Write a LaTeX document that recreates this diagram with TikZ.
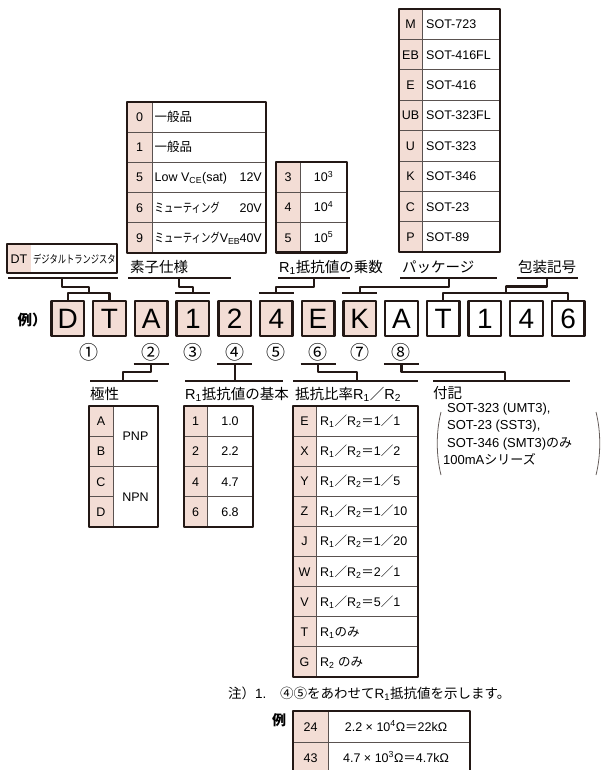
\documentclass[tikz,border=0pt]{standalone}
\usepackage{fontspec}
\setmainfont{Liberation Sans}
\newfontfamily\jp{Noto Sans CJK JP}
\newfontfamily\jpn[FakeStretch=0.75]{Noto Sans CJK JP}
\usetikzlibrary{positioning,calc}
\definecolor{pk}{RGB}{243,221,213}
\definecolor{ink}{RGB}{35,24,21}
\tikzset{
  frame/.style={draw=ink,line width=2.3pt},
  rule/.style={draw=ink,line width=2.2pt},
  sep/.style={draw=ink!75,line width=0.9pt},
  cell/.style={inner sep=0pt,text height=9pt,text depth=0pt,font=\fontsize{12.5}{14}\selectfont},
  lbl/.style={inner sep=0pt,anchor=base west,font=\fontsize{14.5}{16}\selectfont},
  chr/.style={draw=ink,line width=2.4pt,minimum width=32.6pt,minimum height=34.6pt,
    inner sep=0pt,text height=20pt,text depth=0pt,font=\fontsize{28}{28}\selectfont},
  num/.style={inner sep=0pt,font=\jp\fontsize{19}{19}\selectfont}
}
\newcommand{\Rr}[1]{R\textsubscript{#1}}
\newcommand{\rat}[2]{\Rr{1}{\jp ／}\Rr{2}{\jp ＝}#1{\jp ／}#2}
\begin{document}
\begin{tikzpicture}[x=1pt,y=-1pt,line join=round]
\useasboundingbox (0,0) rectangle (602,770);
% code row
\foreach \t [count=\i from 0] in {D,T,A,1,2,4,E,K,A,T,1,4,6}{
  \ifnum\i<8 \def\fc{pk}\else\def\fc{white}\fi
  \node[chr,fill=\fc] (c\i) at (67.8+41.7*\i,318.5) {\t};
}
\node[num,font=\jp\bfseries\fontsize{14.5}{15}\selectfont] (rei) at (32,320) {例）};
\node[num] (n1) at ($(c0)!.5!(c1)+(0,33.5)$) {①};
\foreach \s/\j in {②/2,③/3,④/4,⑤/5,⑥/6,⑦/7,⑧/8}{
  \node[num] (n\j) at (c\j |- 0,352) {\s};
}

% DT box
\fill[pk] (7,244) rectangle (31,273);
\draw[ink,line width=2pt] (7,244) rectangle (117,273);
\node[cell] (dt) at (19,258.5) {DT};
\node[cell,anchor=west,font=\jpn\fontsize{11}{12}\selectfont] (dtn) at (33,258.5) {デジタルトランジスタ};

% 素子仕様
\def\xa{127} \def\xb{152} \def\xc{266} \def\ya{102} \def\rh{30.2}
\fill[pk] (\xa,\ya) rectangle (\xb,\ya+5*\rh);
\foreach \k/\v/\w [count=\i from 0] in {0/{\jp 一般品}/{},1/{\jp 一般品}/{},
  5/{Low V\textsubscript{CE}(sat)}/12V,6/{\jpn ミューティング}/20V,
  9/{\jpn ミューティング}V\textsubscript{EB}/40V}{
  \node[cell] (s\i) at (\xa/2+\xb/2,\ya+\rh*\i+\rh/2) {\k};
  \node[cell,anchor=west] (sv\i) at (\xb+2.5,\ya+\rh*\i+\rh/2) {\v};
  \node[cell,anchor=east] (sw\i) at (\xc-4,\ya+\rh*\i+\rh/2) {\w};
  \ifnum\i>0 \draw[sep] (\xa,\ya+\rh*\i) -- (\xc,\ya+\rh*\i);\fi
}
\draw[sep] (\xb,\ya) -- (\xb,\ya+5*\rh);
\draw[frame] (\xa,\ya) rectangle (\xc,\ya+5*\rh);

% R1 乗数
\def\xa{276} \def\xb{300} \def\xc{347} \def\ya{162} \def\rh{30.2}
\fill[pk] (\xa,\ya) rectangle (\xb,\ya+3*\rh);
\foreach \k [count=\i from 0] in {3,4,5}{
  \node[cell] (m\i) at (\xa/2+\xb/2,\ya+\rh*\i+\rh/2) {\k};
  \node[cell] (mv\i) at (\xb/2+\xc/2,\ya+\rh*\i+\rh/2) {10\textsuperscript{\k}};
  \ifnum\i>0 \draw[sep] (\xa,\ya+\rh*\i) -- (\xc,\ya+\rh*\i);\fi
}
\draw[sep] (\xb,\ya) -- (\xb,\ya+3*\rh);
\draw[frame] (\xa,\ya) rectangle (\xc,\ya+3*\rh);

% package
\def\xa{399} \def\xb{422} \def\xc{500} \def\ya{9} \def\rh{30.4}
\fill[pk] (\xa,\ya) rectangle (\xb,\ya+8*\rh);
\foreach \k/\v [count=\i from 0] in {M/SOT-723,EB/SOT-416FL,E/SOT-416,UB/SOT-323FL,
  U/SOT-323,K/SOT-346,C/SOT-23,P/SOT-89}{
  \node[cell] (p\i) at (\xa/2+\xb/2,\ya+\rh*\i+\rh/2) {\k};
  \node[cell,anchor=west] (pv\i) at (\xb+4,\ya+\rh*\i+\rh/2) {\v};
  \ifnum\i>0 \draw[sep] (\xa,\ya+\rh*\i) -- (\xc,\ya+\rh*\i);\fi
}
\draw[sep] (\xb,\ya) -- (\xb,\ya+8*\rh);
\draw[frame] (\xa,\ya) rectangle (\xc,\ya+8*\rh);

% labels above
\node[lbl] (ls) at (130,272.5) {\jp 素子仕様};
\node[lbl] (lm) at (279,272.5) {\Rr{1}{\jp 抵抗値の乗数}};
\node[lbl] (lp) at (402,272.5) {\jp パッケージ};
\node[lbl] (lh) at (518,272.5) {\jp 包装記号};

% brackets above
\coordinate (udt1) at (8,278); \coordinate (udt2) at (118,278);
\coordinate (jdt) at (62,278);
\coordinate (kdt) at ($(c0.north)!.5!(c1.north)+(0,-7.2)$);
\draw[rule] (udt1) -- (udt2);
\draw[rule] (c0.north) -- ++(0,-7.2) -- ([yshift=7.2pt]c1.north) -- (c1.north);
\draw[rule] (jdt) -- ++(0,9) -| (kdt);

\coordinate (us1) at (128,278); \coordinate (us2) at (231,278);
\coordinate (js) at (179,278);
\draw[rule] (us1) -- (us2);
\draw[rule] ([yshift=7.2pt]c3.north west) -- ([yshift=7.2pt]c3.north east);
\draw[rule] (js) -- ++(0,9) -| ([yshift=7.2pt]c3.north);

\coordinate (um1) at (278,278); \coordinate (um2) at (350,278);
\coordinate (jm) at (314,278);
\draw[rule] (um1) -- (um2);
\draw[rule] ([yshift=7.2pt]c5.north west) -- ([yshift=7.2pt]c5.north east);
\draw[rule] (jm) -- ++(0,9) -| ([yshift=7.2pt]c5.north);

\coordinate (up1) at (400,278); \coordinate (up2) at (497,278);
\coordinate (jpk) at (449,278);
\draw[rule] (up1) -- (up2);
\draw[rule] ([yshift=7.2pt]c7.north west) -- ([yshift=7.2pt]c7.north east);
\draw[rule] (jpk) -- ++(0,9) -| ([yshift=7.2pt]c7.north);

\coordinate (uh1) at (517,278); \coordinate (uh2) at (578,278);
\coordinate (jh) at (547,278);
\coordinate (kh) at ($(c9.north)!.5!(c12.north)+(0,-7.2)$);
\draw[rule] (uh1) -- (uh2);
\draw[rule] (c9.north) -- ++(0,-7.2) -- ([yshift=7.2pt]c12.north) -- (c12.north);
\draw[rule] (jh) -- ++(0,8.5) -| (kh);

% brackets below
\coordinate (jg) at (123,381);
\coordinate (jb) at (c4 |- 0,381);
\coordinate (jr) at (357,381);
\coordinate (jf) at (505,381);
\foreach \j in {2,4,6,8}{
  \draw[rule] (c\j.south west |- 0,364) -- (c\j.south east |- 0,364);
}
\draw[rule] (c2 |- 0,364) -- (c2 |- 0,372) -| (jg);
\draw[rule] (c4 |- 0,364) -- (jb);
\draw[rule] (c6 |- 0,364) -- (c6 |- 0,372) -| (jr);
\draw[rule] (c8 |- 0,364) -- (c8 |- 0,372) -| (jf);
\draw[rule] (90,381) -- (158,381);
\draw[rule] (185,381) -- (283,381);
\draw[rule] (293,381) -- (418,381);
\draw[rule] (433,381) -- (570,381);

% labels below
\node[lbl] (lg) at (90,399) {\jp 極性};
\node[lbl] (lb) at (185,399) {\Rr{1}{\jp 抵抗値の基本}};
\node[lbl] (lr) at (295,399) {{\jp 抵抗比率}\Rr{1}{\jp ／}\Rr{2}};
\node[lbl] (lf) at (433,398) {\jp 付記};

% 極性
\def\xa{89} \def\xb{113} \def\xc{158} \def\ya{406} \def\rh{30.2}
\fill[pk] (\xa,\ya) rectangle (\xb,\ya+4*\rh);
\foreach \k [count=\i from 0] in {A,B,C,D}{
  \node[cell] (g\i) at (\xa/2+\xb/2,\ya+\rh*\i+\rh/2) {\k};
}
\draw[sep] (\xa,\ya+\rh) -- (\xb,\ya+\rh);
\draw[sep] (\xa,\ya+2*\rh) -- (\xc,\ya+2*\rh);
\draw[sep] (\xa,\ya+3*\rh) -- (\xb,\ya+3*\rh);
\draw[sep] (\xb,\ya) -- (\xb,\ya+4*\rh);
\node[cell] (gp) at (\xb/2+\xc/2,\ya+\rh) {PNP};
\node[cell] (gn) at (\xb/2+\xc/2,\ya+3*\rh) {NPN};
\draw[frame] (\xa,\ya) rectangle (\xc,\ya+4*\rh);

% R1 基本
\def\xa{184} \def\xb{207} \def\xc{253} \def\ya{406} \def\rh{30.2}
\fill[pk] (\xa,\ya) rectangle (\xb,\ya+4*\rh);
\foreach \k/\v [count=\i from 0] in {1/1.0,2/2.2,4/4.7,6/6.8}{
  \node[cell] (b\i) at (\xa/2+\xb/2,\ya+\rh*\i+\rh/2) {\k};
  \node[cell] (bv\i) at (\xb/2+\xc/2,\ya+\rh*\i+\rh/2) {\v};
  \ifnum\i>0 \draw[sep] (\xa,\ya+\rh*\i) -- (\xc,\ya+\rh*\i);\fi
}
\draw[sep] (\xb,\ya) -- (\xb,\ya+4*\rh);
\draw[frame] (\xa,\ya) rectangle (\xc,\ya+4*\rh);

% 抵抗比率
\def\xa{293} \def\xb{316} \def\xc{418} \def\ya{406} \def\rh{30.1}
\fill[pk] (\xa,\ya) rectangle (\xb,\ya+9*\rh);
\foreach \k/\v [count=\i from 0] in {E/\rat{1}{1},X/\rat{1}{2},Y/\rat{1}{5},
  Z/\rat{1}{10},J/\rat{1}{20},W/\rat{2}{1},V/\rat{5}{1},
  T/\Rr{1}{\jp のみ},G/\Rr{2} {\jp のみ}}{
  \node[cell] (r\i) at (\xa/2+\xb/2,\ya+\rh*\i+\rh/2) {\k};
  \node[cell,anchor=west] (rv\i) at (\xb+4,\ya+\rh*\i+\rh/2) {\v};
  \ifnum\i>0 \draw[sep] (\xa,\ya+\rh*\i) -- (\xc,\ya+\rh*\i);\fi
}
\draw[sep] (\xb,\ya) -- (\xb,\ya+9*\rh);
\draw[frame] (\xa,\ya) rectangle (\xc,\ya+9*\rh);

% 付記
\node[cell,anchor=base west,font=\fontsize{13}{14}\selectfont] (f1) at (447,412) {SOT-323 (UMT3),};
\node[cell,anchor=base west,font=\fontsize{13}{14}\selectfont] (f2) at (447,429.5) {SOT-23 (SST3),};
\node[cell,anchor=base west,font=\fontsize{13}{14}\selectfont] (f3) at (447,447) {SOT-346 (SMT3){\jp のみ}};
\node[cell,anchor=base west,font=\fontsize{13}{14}\selectfont] (f4) at (443,464.5) {100mA{\jp シリーズ}};
\draw[ink!70,line width=0.8pt] (441,412) .. controls (436,432) and (436,455) .. (441,475);
\draw[ink!70,line width=0.8pt] (596,412) .. controls (601,432) and (601,455) .. (596,475);

% note
\node[cell,anchor=base west,font=\fontsize{13.5}{14}\selectfont] (nt) at (228,698) {{\jp 注）}1.};
\node[cell,anchor=base west,font=\fontsize{13.5}{14}\selectfont] (nt2) at (280,698) {{\jp ④⑤をあわせて}\Rr{1}{\jp 抵抗値を示します。}};
\node[num,font=\jp\bfseries\fontsize{14}{15}\selectfont] (rei2) at (279,720) {例};

% example
\def\xa{293} \def\xb{328} \def\xc{470} \def\ya{711} \def\rh{31}
\fill[pk] (\xa,\ya) rectangle (\xb,\ya+2*\rh+5);
\foreach \k/\v [count=\i from 0] in {24/{2.2 × 10\textsuperscript{4}Ω{\jp ＝}22kΩ},
  43/{4.7 × 10\textsuperscript{3}Ω{\jp ＝}4.7kΩ}}{
  \node[cell] (e\i) at (\xa/2+\xb/2,\ya+\rh*\i+\rh/2) {\k};
  \node[cell] (ev\i) at (\xb/2+\xc/2-3,\ya+\rh*\i+\rh/2) {\v};
  \ifnum\i>0 \draw[sep] (\xa,\ya+\rh*\i) -- (\xc,\ya+\rh*\i);\fi
}
\draw[sep] (\xb,\ya) -- (\xb,\ya+2*\rh+5);
\draw[frame] (\xa,\ya+2*\rh+5) -- (\xa,\ya) -- (\xc,\ya) -- (\xc,\ya+2*\rh+5);
\end{tikzpicture}
\end{document}
